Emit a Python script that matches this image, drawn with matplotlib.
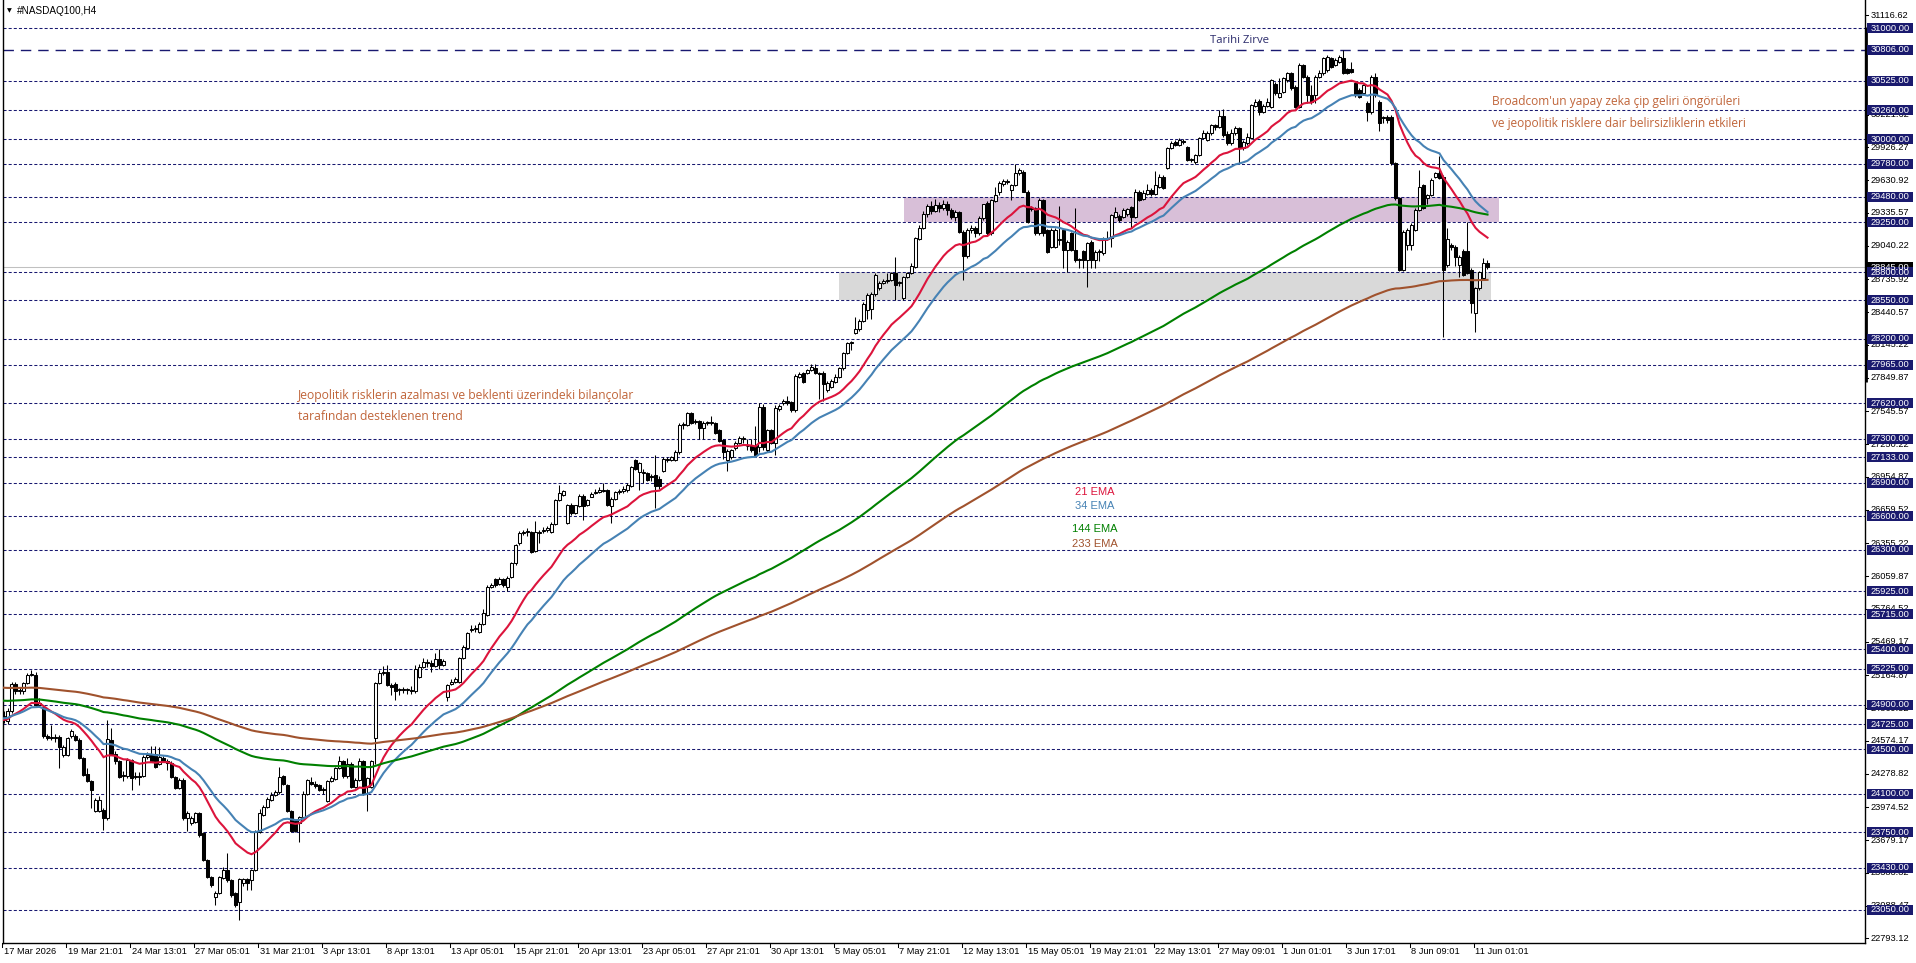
import matplotlib
matplotlib.use("Agg")
import matplotlib.pyplot as plt
from matplotlib.patches import Rectangle
import matplotlib.transforms as mtransforms
import numpy as np

plt.rcParams['lines.scale_dashes'] = False

# ---------------- DATA ----------------
OPEN = [24800,24750,24840,25090,25020,25020,25095,25170,25170,24900,
        24880,24615,24605,24600,24610,24450,24450,24615,24620,24580,
        24420,24280,24210,23940,23940,23950,23880,24580,24460,24390,
        24255,24255,24400,24250,24260,24260,24430,24450,24460,24370,
        24420,24390,24375,24250,24150,24225,23880,23830,23845,23920,
        23740,23500,23350,23170,23200,23340,23410,23320,23200,23125,
        23290,23325,23320,23410,23755,23910,23980,24040,24085,24115,
        24260,24180,23940,23850,23830,23890,24100,24200,24190,24180,
        24135,24030,24210,24230,24330,24390,24255,24370,24160,24220,
        24390,24160,24160,24597,25100,25190,25200,25080,25090,25030,
        25040,25030,25035,25020,25150,25244,25290,25280,25250,25310,
        25260,24973,25090,25110,25110,25320,25410,25570,25580,25560,
        25630,25710,25965,26030,25990,26030,25965,26055,26175,26355,
        26450,26455,26460,26290,26450,26470,26480,26460,26530,26750,
        26790,26543,26700,26630,26690,26780,26700,26775,26810,26820,
        26830,26840,26690,26760,26820,26830,26835,26870,27110,27000,
        26990,26990,26960,26970,26940,27010,27105,27110,27110,27175,
        27420,27420,27530,27450,27460,27400,27440,27440,27440,27380,
        27287,27110,27137,27212,27257,27300,27230,27230,27230,27227,
        27588,27197,27377,27257,27570,27620,27640,27630,27560,27860,
        27890,27890,27920,27940,27890,27890,27740,27770,27815,27860,
        27935,28070,28160,28250,28285,28365,28460,28465,28604,28655,
        28700,28725,28730,28790,28700,28565,28760,28790,28850,29100,
        29200,29330,29400,29350,29410,29380,29420,29360,29300,29340,
        29160,28950,29180,29200,29150,29286,29421,29151,29445,29527,
        29596,29616,29542,29587,29692,29707,29527,29380,29376,29150,
        29451,29180,29030,29030,29090,29180,29000,29150,29000,28910,
        28990,28910,29070,28910,28985,28970,29100,29105,29300,29310,
        29300,29330,29390,29300,29520,29465,29510,29545,29510,29570,
        29662,29737,29917,29977,29947,29980,29932,29812,29797,29857,
        30008,29993,30053,30128,30110,30209,30050,29962,30053,30098,
        29918,29963,30008,30300,30345,30249,30300,30293,30500,30384,
        30429,30534,30594,30474,30294,30669,30564,30400,30400,30564,
        30594,30624,30729,30669,30699,30729,30630,30630,30504,30444,
        30414,30324,30249,30564,30339,30190,30203,30203,29783,29467,
        28821,29046,29046,29181,29362,29587,29467,29497,29662,29698,
        29662,28866,29046,29031,28866,28996,28996,28821,28430,28655,
        28745,28887]
HIGH = [24840,24870,25110,25110,25060,25110,25190,25215,25200,24960,
        24900,24640,24720,24640,24630,24540,24610,24680,24640,24600,
        24430,24330,24220,24060,24080,23970,24760,24690,24480,24400,
        24300,24420,24410,24290,24290,24450,24470,24530,24530,24520,
        24440,24410,24390,24260,24240,24240,23940,23900,23930,23930,
        23750,23510,23360,23220,23360,23440,23560,23330,23210,23340,
        23340,23340,23420,23770,23960,24000,24070,24110,24130,24340,
        24270,24190,23950,23860,23900,24120,24230,24250,24210,24190,
        24160,24220,24260,24340,24440,24400,24420,24380,24240,24420,
        24400,24250,24400,25110,25210,25250,25260,25100,25110,25050,
        25060,25050,25070,25260,25270,25320,25310,25300,25370,25400,
        25310,25090,25130,25150,25330,25440,25560,25620,25620,25650,
        25760,25980,26000,26040,26050,26040,26060,26190,26350,26470,
        26480,26490,26470,26560,26480,26500,26510,26550,26760,26880,
        26840,26710,26720,26700,26800,26800,26760,26820,26850,26860,
        26900,26850,26770,26830,26850,26870,26900,27050,27120,27090,
        27030,27000,26980,27150,26960,27130,27130,27140,27200,27440,
        27450,27540,27540,27480,27470,27460,27460,27500,27450,27390,
        27300,27210,27210,27280,27320,27320,27300,27300,27410,27620,
        27610,27390,27390,27600,27610,27660,27680,27640,27880,27900,
        27900,27930,27970,27970,27900,27910,27820,27840,27880,27950,
        28080,28170,28180,28400,28380,28530,28610,28620,28790,28720,
        28740,28790,28800,28940,28720,28770,28800,28880,29120,29230,
        29350,29420,29440,29460,29430,29450,29440,29380,29360,29350,
        29180,29200,29230,29220,29310,29420,29440,29460,29565,29620,
        29640,29640,29600,29780,29740,29720,29540,29400,29390,29470,
        29465,29190,29200,29200,29400,29190,29090,29160,29380,28930,
        29000,29070,29090,29000,29010,29120,29170,29330,29390,29330,
        29380,29380,29400,29550,29540,29540,29600,29560,29710,29690,
        29680,29930,29980,29990,30010,30000,29940,29830,29870,30020,
        30080,30070,30140,30140,30260,30270,30070,30090,30120,30110,
        29990,30053,30320,30360,30360,30320,30370,30540,30520,30555,
        30560,30610,30610,30490,30690,30680,30580,30490,30580,30620,
        30745,30760,30745,30730,30760,30805,30640,30700,30520,30460,
        30500,30340,30580,30600,30350,30210,30220,30220,29790,29480,
        29180,29200,29240,29380,29720,29600,29510,29650,29700,29848,
        29680,29200,29060,29050,28960,29010,29250,28840,28670,28810,
        28925,28910]
LOW = [24740,24730,24830,25000,25000,25000,25090,25160,24880,24880,
       24600,24580,24580,24560,24330,24430,24440,24600,24570,24410,
       24260,24200,23970,23930,23930,23770,23860,24450,24370,24240,
       24210,24240,24130,24230,24180,24250,24410,24380,24330,24360,
       24380,24310,24240,24140,24140,23860,23760,23820,23830,23710,
       23490,23340,23260,23095,23190,23330,23300,23170,23080,22960,
       23270,23230,23230,23400,23740,23900,23970,24030,24080,24100,
       24180,23930,23750,23750,23665,23880,24090,24180,24150,24120,
       24100,24020,24200,24220,24320,24240,24240,24150,24150,24210,
       24090,23940,24150,24370,25090,25170,25070,24990,24940,24990,
       25010,25000,25000,25010,25140,25230,25240,25200,25240,25220,
       25250,24930,25080,25100,25100,25310,25400,25560,25560,25550,
       25620,25700,25950,25960,25980,25960,25930,26040,26160,26340,
       26430,26420,26270,26280,26360,26450,26460,26450,26520,26740,
       26780,26530,26610,26620,26680,26570,26690,26770,26800,26810,
       26820,26690,26540,26750,26800,26810,26820,26860,27020,26840,
       26900,26920,26920,26670,26850,27000,27090,27100,27100,27160,
       27390,27410,27430,27430,27300,27300,27420,27420,27340,27270,
       27120,27010,27120,27200,27250,27260,27200,27180,27140,27180,
       27200,27180,27250,27150,27550,27600,27600,27540,27540,27850,
       27800,27880,27910,27880,27660,27640,27720,27760,27800,27850,
       27920,28060,28100,28240,28270,28350,28380,28380,28590,28640,
       28690,28700,28720,28550,28680,28550,28750,28780,28840,29090,
       29190,29300,29330,29340,29340,29360,29320,29280,29260,29150,
       28730,28930,29150,29120,29140,29270,29140,29140,29430,29500,
       29580,29600,29450,29580,29680,29520,29240,29350,29140,29140,
       29130,28970,29020,29020,29050,28835,28805,28990,28890,28835,
       28835,28670,28835,28835,28900,28960,29090,29030,29290,29250,
       29290,29310,29200,29290,29440,29450,29500,29490,29500,29560,
       29550,29730,29910,29940,29940,29960,29800,29790,29780,29850,
       30000,29980,30040,30080,30100,30020,29950,29950,30040,29783,
       29900,29950,30000,30290,30220,30240,30290,30280,30400,30370,
       30420,30520,30440,30280,30280,30550,30330,30320,30330,30550,
       30580,30610,30640,30660,30690,30590,30590,30600,30380,30370,
       30400,30160,30230,30380,30070,30150,30150,29770,29450,28810,
       28810,29000,29000,29170,29350,29370,29420,29490,29650,29640,
       28220,28850,29000,28860,28760,28770,28780,28430,28265,28640,
       28730,28830]
CLOSE = [24760,24840,25090,25020,25035,25100,25170,25180,24900,24920,
         24615,24605,24600,24605,24520,24520,24600,24660,24580,24420,
         24270,24210,24135,24040,24040,23880,24590,24460,24390,24250,
         24270,24400,24240,24260,24250,24430,24450,24390,24340,24430,
         24390,24375,24250,24150,24225,23880,23920,23875,23920,23725,
         23500,23350,23275,23200,23350,23410,23320,23185,23095,23325,
         23325,23290,23410,23755,23920,23980,24055,24085,24115,24250,
         24190,23940,23760,23760,23890,24100,24220,24190,24165,24130,
         24130,24210,24240,24330,24390,24255,24370,24160,24220,24390,
         24100,24240,24390,25100,25190,25200,25080,25060,25020,25040,
         25030,25035,25020,25220,25240,25290,25275,25250,25310,25260,
         25295,25079,25110,25130,25320,25425,25545,25580,25580,25630,
         25725,25965,25980,25980,26035,25980,26046,26175,26340,26450,
         26455,26460,26280,26460,26460,26480,26490,26530,26747,26810,
         26830,26700,26630,26700,26780,26690,26745,26805,26820,26835,
         26840,26700,26760,26820,26830,26850,26880,27040,27030,27080,
         26990,26930,26950,26870,26870,27115,27115,27130,27180,27420,
         27420,27530,27440,27460,27400,27440,27440,27440,27355,27280,
         27182,27190,27197,27257,27302,27300,27230,27200,27150,27588,
         27227,27377,27257,27573,27590,27640,27620,27560,27865,27880,
         27810,27920,27950,27890,27880,27790,27805,27820,27860,27935,
         28070,28160,28160,28285,28365,28515,28595,28600,28775,28705,
         28725,28725,28790,28685,28700,28760,28790,28856,29106,29200,
         29330,29400,29350,29410,29380,29420,29360,29300,29340,29160,
         28950,29180,29200,29150,29290,29415,29151,29451,29496,29602,
         29623,29620,29587,29692,29722,29527,29256,29375,29150,29451,
         29150,28985,29180,29180,29090,29000,29075,29000,28910,28910,
         28910,29060,28910,28985,28990,29105,29110,29316,29346,29270,
         29360,29367,29300,29527,29450,29517,29540,29510,29587,29662,
         29557,29917,29962,29947,29993,29975,29812,29812,29857,30008,
         30059,30053,30128,30110,30209,30038,29962,30053,30098,29918,
         29978,30017,30309,30339,30249,30300,30339,30534,30414,30414,
         30549,30594,30459,30294,30669,30564,30400,30339,30564,30600,
         30729,30744,30654,30714,30744,30600,30600,30610,30399,30384,
         30489,30249,30564,30399,30143,30190,30173,29783,29467,28821,
         29166,29181,29226,29362,29572,29377,29497,29632,29692,29647,
         28821,29098,29031,28941,28941,28776,28790,28520,28655,28806,
         28881,28845]

EMA_PERIODS = [21, 34, 144, 233]
EMA_START = [24763, 24778, 24937, 25054]
EMA_COLORS = ['#dc143c', '#4682b4', '#008000', '#a0522d']

LEVELS = [31000, 30525, 30260, 30000, 29780, 29480, 29250, 28800, 28550, 28200,
          27965, 27620, 27300, 27133, 26900, 26600, 26300, 25925, 25715, 25400,
          25225, 24900, 24725, 24500, 24100, 23750, 23430, 23050]
ATH_LEVEL = 30806
BID = 28845
SCALE_BAR = (27815, 31010)

SCALE_TICKS = [31116.62, 30221.62, 29926.27, 29630.92, 29335.57, 29040.22, 28735.92,
               28440.57, 28145.22, 27849.87, 27545.57, 27250.22, 26954.87, 26659.52,
               26355.22, 26059.87, 25764.52, 25469.17, 25164.87, 24869.52, 24574.17,
               24278.82, 23974.52, 23679.17, 23383.82, 23088.47, 22793.12]

DATE_LABELS = ["17 Mar 2026", "19 Mar 21:01", "24 Mar 13:01", "27 Mar 05:01", "31 Mar 21:01",
               "3 Apr 13:01", "8 Apr 13:01", "13 Apr 05:01", "15 Apr 21:01", "20 Apr 13:01",
               "23 Apr 05:01", "27 Apr 21:01", "30 Apr 13:01", "5 May 05:01", "7 May 21:01",
               "12 May 13:01", "15 May 05:01", "19 May 21:01", "22 May 13:01", "27 May 09:01",
               "1 Jun 01:01", "3 Jun 17:01", "8 Jun 09:01", "11 Jun 01:01"]
DATE_STEP = 16

PURPLE_ZONE = (29250, 29480)
GRAY_ZONE = (28550, 28800)

# ---------------- FIGURE ----------------
W, H = 1916, 963
fig = plt.figure(figsize=(W / 100, H / 100), dpi=100)
fig.patch.set_facecolor('white')
ax_l, ax_r, ax_b, ax_t = 2.5, 1865, 943, 0
ax = fig.add_axes([ax_l / W, (H - ax_b) / H, (ax_r - ax_l) / W, (ax_b - ax_t) / H])
ppb = 4.0  # px per bar
x0px = 3.5
ax.set_xlim(-(x0px - ax_l) / ppb, (ax_r - x0px) / ppb)
y_per_px = 1 / 0.1109
ax.set_ylim(31000 - (ax_b - 28.3) * y_per_px, 31000 + 28.3 * y_per_px)
ax.set_xticks([])
ax.set_yticks([])
ax.spines['top'].set_visible(False)
for s in ['left', 'right', 'bottom']:
    ax.spines[s].set_linewidth(1.0)
    ax.spines[s].set_color('black')

o = np.array(OPEN, float); hh = np.array(HIGH, float)
lo = np.array(LOW, float); c = np.array(CLOSE, float)
n = len(c)
x = np.arange(n)

# zones
ax.add_patch(Rectangle((225.1, PURPLE_ZONE[0]), 373.8 - 225.1, PURPLE_ZONE[1] - PURPLE_ZONE[0],
                       facecolor='#d8bfd8', edgecolor='none', zorder=1))
ax.add_patch(Rectangle((208.9, GRAY_ZONE[0]), 371.8 - 208.9, GRAY_ZONE[1] - GRAY_ZONE[0],
                       facecolor='#d9d9d9', edgecolor='none', zorder=1))

# level lines
for lv in LEVELS:
    ax.axhline(lv, color='#191970', lw=0.75, dashes=(2.2, 1.5), zorder=2)
ax.axhline(ATH_LEVEL, color='#191970', lw=1.0, dashes=(7.5, 5.0), zorder=2)
ax.axhline(BID, color='#c0c0c0', lw=0.75, zorder=1.5)

# candles
ax.vlines(x, lo, hh, color='black', lw=0.75, zorder=3)
up = c >= o
bw = 0.6
body_lo = np.minimum(o, c)
body_h = np.maximum(np.abs(c - o), 8)
ax.bar(x[up], body_h[up], bottom=body_lo[up], width=bw, facecolor='white',
       edgecolor='black', linewidth=0.75, zorder=4)
ax.bar(x[~up], body_h[~up], bottom=body_lo[~up], width=bw, facecolor='black',
       edgecolor='black', linewidth=0.75, zorder=4)

# EMAs
for per, start, col in zip(EMA_PERIODS, EMA_START, EMA_COLORS):
    k = 2.0 / (per + 1)
    e = np.empty(n)
    e[0] = start
    for i in range(1, n):
        e[i] = e[i - 1] + k * (c[i] - e[i - 1])
    ax.plot(x, e, color=col, lw=1.5, zorder=5, solid_joinstyle='miter')

# ---------- text helpers ----------
def px_to_data_x(px):
    return (px - x0px) / ppb

def px_to_price(py):
    return 31000 - (py - 28.3) * y_per_px

LAB = 'Liberation Sans'
ANN = 'Open Sans'
ann_col = '#c0653a'

# annotations
ax.text(px_to_data_x(298), px_to_price(395), "Jeopolitik risklerin azalması ve beklenti üzerindeki bilançolar",
        family=ANN, fontsize=8.7, color=ann_col, va='center', ha='left', zorder=6)
ax.text(px_to_data_x(298), px_to_price(416), "tarafından desteklenen trend",
        family=ANN, fontsize=8.7, color=ann_col, va='center', ha='left', zorder=6)
ax.text(px_to_data_x(1492), px_to_price(101), "Broadcom'un yapay zeka çip geliri öngörüleri",
        family=ANN, fontsize=8.6, color=ann_col, va='center', ha='left', zorder=6)
ax.text(px_to_data_x(1492), px_to_price(123), "ve jeopolitik risklere dair belirsizliklerin etkileri",
        family=ANN, fontsize=8.6, color=ann_col, va='center', ha='left', zorder=6)
ax.text(px_to_data_x(1210), px_to_price(40), "Tarihi Zirve",
        family=ANN, fontsize=8.2, color='#2b2b6b', va='center', ha='left', zorder=6)

ema_lab = [("21 EMA", 1075, 492), ("34 EMA", 1075, 506), ("144 EMA", 1072, 529), ("233 EMA", 1072, 544)]
for (t, px, py), col in zip(ema_lab, EMA_COLORS):
    ax.text(px_to_data_x(px), px_to_price(py), t, family=LAB, fontsize=8, color=col,
            va='center', ha='left', zorder=6)

# title
fig.text(7 / W, 1 - 11 / H, "\u25BC", family='DejaVu Sans', fontsize=4.5, color='black', va='center', ha='left')
fig.text(17 / W, 1 - 11 / H, "#NASDAQ100,H4", family=LAB, fontsize=7.2, color='black', va='center', ha='left')

# right price scale
tr = mtransforms.blended_transform_factory(fig.transFigure, ax.transData)
ax.plot([(ax_r + 0.8) / W, (ax_r + 0.8) / W], list(SCALE_BAR), color='black', lw=2.0,
        transform=tr, clip_on=False, zorder=6, solid_capstyle='butt')
for v in SCALE_TICKS:
    ax.plot([ax_r / W, (ax_r + 3) / W], [v, v], color='black', lw=0.75, transform=tr, clip_on=False)
    ax.text((ax_r + 6) / W, v, f"{v:.2f}", transform=tr, family=LAB, fontsize=6.7,
            color='black', va='center', ha='left', clip_on=False, zorder=7)

def price_box(v, text, fc):
    ax.add_patch(Rectangle(((ax_r + 2) / W, v - 5 * y_per_px), 46 / W, 10 * y_per_px,
                           transform=tr, facecolor=fc, edgecolor='none', clip_on=False, zorder=8))
    ax.text((ax_r + 5.5) / W, v, text, transform=tr, family=LAB, fontsize=6.7,
            color='white', va='center', ha='left', clip_on=False, zorder=9)

price_box(BID, f"{BID:.2f}", 'black')
for lv in LEVELS + [ATH_LEVEL]:
    price_box(lv, f"{lv:.2f}", '#1a1a6e')

# date axis
trx = mtransforms.blended_transform_factory(ax.transData, fig.transFigure)
for k, lab in enumerate(DATE_LABELS):
    xb = k * DATE_STEP - 0.4
    ax.plot([xb, xb], [1 - ax_b / H, 1 - (ax_b + 4) / H], color='black', lw=0.75,
            transform=trx, clip_on=False)
    ax.text(xb + 0.4, 1 - 951 / H, lab, transform=trx, family=LAB, fontsize=6.7,
            color='black', va='center', ha='left', clip_on=False)

fig.savefig('out.png', dpi=100, facecolor='white')
